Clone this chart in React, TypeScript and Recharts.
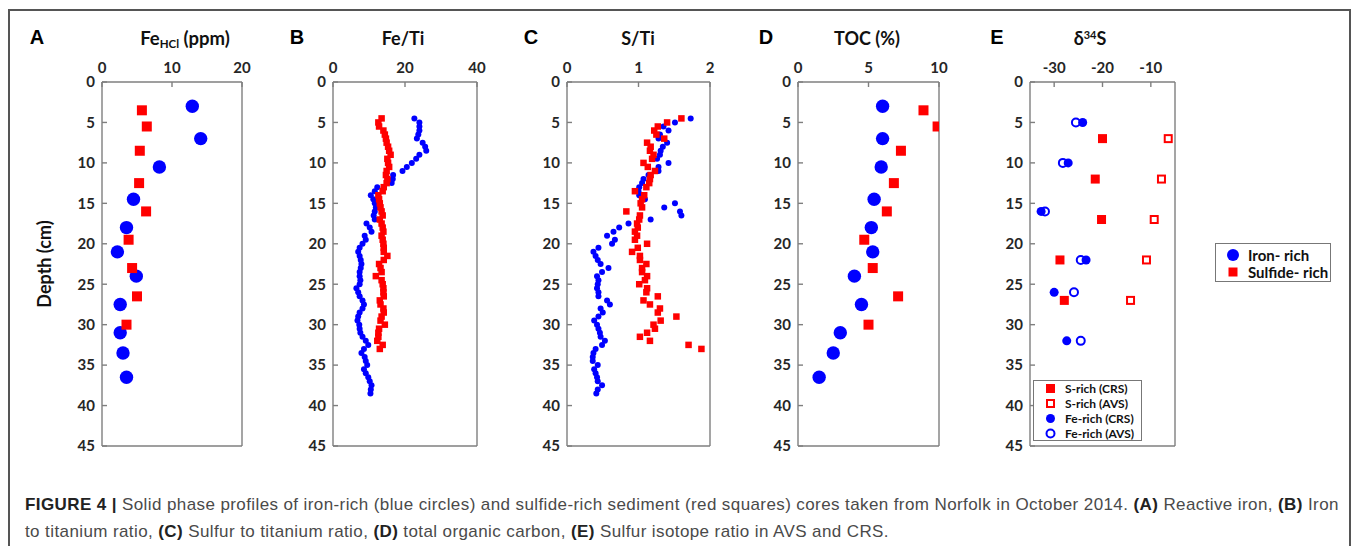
import React from "react";
import { ScatterChart, Scatter, XAxis, YAxis } from "recharts";

const BLUE = "#0000ff";
const RED = "#ff0000";

const depthTicks = [0, 5, 10, 15, 20, 25, 30, 35, 40, 45];

// core samples (panels A and D)
const ironCoreDepth = [3, 7, 10.5, 14.5, 18, 21, 24, 27.5, 31, 33.5, 36.5];
const sulfCoreDepth = [3.5, 5.5, 8.5, 12.5, 16, 19.5, 23, 26.5, 30];
const feHclIron = [12.9, 14.1, 8.2, 4.5, 3.5, 2.2, 4.9, 2.6, 2.6, 3.0, 3.5];
const feHclSulf = [5.7, 6.4, 5.4, 5.3, 6.3, 3.8, 4.3, 5.0, 3.5];
const tocIron = [6.0, 6.0, 5.9, 5.4, 5.2, 5.3, 4.0, 4.5, 3.0, 2.5, 1.5];
const tocSulf = [8.9, 9.9, 7.3, 6.8, 6.3, 4.7, 5.3, 7.1, 5.0];

// XRF scan depths (panels B and C)
const ironScanDepth = [
  4.5, 5, 5.5, 6, 6.5, 7, 7.5, 8, 8.5, 9, 9.5, 10, 10.5, 11, 11.5, 12, 12.5, 13, 13.5, 14,
  14.5, 15, 15.5, 16, 16.5, 17, 17.5, 18, 18.5, 19, 19.5, 20, 20.5, 21, 21.5, 22, 22.5, 23, 23.5, 24,
  24.5, 25, 25.5, 26, 26.5, 27, 27.5, 28, 28.5, 29, 29.5, 30, 30.5, 31, 31.5, 32, 32.5, 33, 33.5, 34,
  34.5, 35, 35.5, 36, 36.5, 37, 37.5, 38, 38.5,
];
const sulfScanDepth = [
  4.5, 5, 5.5, 6, 6.5, 7, 7.5, 8, 8.5, 9, 9.5, 10, 10.5, 11, 11.5, 12, 12.5, 13, 13.5, 14,
  14.5, 15, 15.5, 16, 16.5, 17, 17.5, 18, 18.5, 19, 19.5, 20, 20.5, 21, 21.5, 22, 22.5, 23, 23.5, 24,
  24.5, 25, 25.5, 26, 26.5, 27, 27.5, 28, 28.5, 29, 29.5, 30, 30.5, 31, 31.5, 32, 32.5, 33,
];
const feTiIron = [
  22.6, 24, 24, 24, 23.7, 23.3, 24.9, 25.6, 25.9, 24,
  23.1, 21.9, 20.5, 19.3, 16.7, 16.6, 16.3, 12.3, 11.6, 10.5,
  11.2, 11.6, 11.9, 11.6, 11.3, 11.6, 9.3, 10.2, 10.7, 8.8,
  9.1, 8.2, 7.4, 7.0, 7.4, 7.7, 7.9, 7.7, 7.4, 7.4,
  7.6, 7.4, 6.5, 7.0, 7.4, 8.2, 8.6, 8.2, 7.4, 7.0,
  6.8, 7.3, 7.4, 7.6, 8.2, 9.1, 9.8, 8.6, 7.9, 8.8,
  9.1, 9.5, 8.6, 9.1, 9.8, 10.2, 10.7, 10.5, 10.4,
];
const feTiSulf = [
  13.5, 12.6, 12.8, 14.0, 14.4, 14.7, 14.9, 15.3, 15.6, 16.0,
  15.1, 15.3, 15.6, 14.9, 14.7, 15.1, 14.9, 14.1, 13.8, 12.6,
  12.8, 13.0, 13.2, 13.5, 13.8, 13.0, 13.5, 13.8, 14.0, 13.5,
  13.8, 14.0, 14.1, 14.1, 15.1, 14.1, 12.8, 13.2, 13.5, 11.9,
  13.5, 13.8, 14.0, 14.0, 14.1, 13.0, 13.2, 14.0, 14.1, 13.5,
  13.2, 14.4, 12.8, 12.6, 12.6, 12.3, 13.8, 13.0,
];
const sTiIron = [
  1.73, 1.51, 1.35, 1.42, 1.3, 1.28, 1.4, 1.34, 1.31, 1.3,
  1.26, 1.42, 1.28, 1.28, 1.14, 1.07, 1.05, 1.01, 1.0, 1.01,
  1.09, 1.51, 1.36, 1.58, 1.6, 1.17, 0.86, 0.73, 0.65, 0.56,
  0.67, 0.63, 0.44, 0.37, 0.4, 0.43, 0.47, 0.58, 0.49, 0.42,
  0.44, 0.43, 0.42, 0.44, 0.44, 0.56, 0.6, 0.47, 0.5, 0.44,
  0.38, 0.42, 0.44, 0.46, 0.47, 0.53, 0.49, 0.4, 0.37, 0.36,
  0.36, 0.43, 0.38, 0.4, 0.42, 0.43, 0.49, 0.43, 0.41,
];
const sTiSulf = [
  1.6, 1.4, 1.27, 1.22, 1.25, 1.36, 1.12, 1.17, 1.16, 1.21,
  1.19, 1.07, 1.13, 1.23, 1.17, 1.16, 1.15, 1.11, 0.95, 1.08,
  1.05, 1.03, 1.05, 0.83, 1.02, 1.01, 0.98, 0.99, 0.95, 0.98,
  0.95, 1.12, 0.99, 0.91, 1.02, 1.02, 1.11, 1.05, 1.05, 1.12,
  1.09, 1.01, 1.12, 1.11, 1.27, 1.07, 1.16, 1.3, 1.27, 1.53,
  1.31, 1.21, 1.23, 1.12, 1.02, 1.16, 1.7, 1.88,
];

// sulfur isotopes (panel E)
const feIsoDepth = [5, 10, 16, 22, 26, 32];
const feCrs = [-24.1, -27.1, -32.7, -23.4, -30, -27.4];
const feAvs = [-25.5, -28.2, -31.9, -24.5, -25.9, -24.5];
const sIsoDepth = [7, 12, 17, 22, 27];
const sCrs = [-20.0, -21.5, -20.2, -28.8, -27.9];
const sAvs = [-6.4, -7.8, -9.3, -10.9, -14.2];

const pts = (xs: number[], ys: number[]) => xs.map((x, i) => ({ x, y: ys[i] }));

const YW = 60;
const XH = 30;
const PH = 364;
const TOP = 82;
const AXIS = "#7f7f7f";
const FONT = "Lato, 'Open Sans', sans-serif";

const tickStyle = { fill: "#262626", fontSize: 15, fontWeight: 700, fontFamily: FONT };
const lineStyle = { stroke: AXIS, strokeWidth: 1.4 };

const dot = (r: number, fill: string) => (p: any) => <circle cx={p.cx} cy={p.cy} r={r} fill={fill} />;
const ring = (r: number, color: string) => (p: any) => (
  <circle cx={p.cx} cy={p.cy} r={r} fill="#fff" stroke={color} strokeWidth={2} />
);
const sq = (s: number, fill: string) => (p: any) => (
  <rect x={p.cx - s / 2} y={p.cy - s / 2} width={s} height={s} fill={fill} />
);
const openSq = (s: number, color: string) => (p: any) => (
  <rect x={p.cx - s / 2} y={p.cy - s / 2} width={s} height={s} fill="#fff" stroke={color} strokeWidth={2} />
);

type PanelProps = {
  left: number;
  width: number;
  domain: [number, number];
  ticks: number[];
  children: React.ReactNode;
};

const Panel = ({ left, width, domain, ticks, children }: PanelProps) => (
  <div style={{ position: "absolute", left: left - YW, top: TOP - XH }}>
    <ScatterChart
      width={YW + width + 1 + 12}
      height={XH + PH + 1 + 12}
      margin={{ top: 0, right: 12, bottom: 12, left: 0 }}
    >
      <XAxis xAxisId="t" orientation="top" type="number" dataKey="x" domain={domain} ticks={ticks}
        interval={0} height={XH} tickSize={-5} tickMargin={14} axisLine={lineStyle} tickLine={lineStyle}
        tick={tickStyle} allowDataOverflow />
      <XAxis xAxisId="b" orientation="bottom" type="number" dataKey="x" domain={domain} ticks={ticks}
        interval={0} height={1} tickSize={-5} tick={false} axisLine={lineStyle} tickLine={lineStyle}
        allowDataOverflow />
      <YAxis yAxisId="l" type="number" dataKey="y" domain={[0, 45]} ticks={depthTicks} reversed
        interval={0} width={YW} tickSize={-5} tickMargin={12} axisLine={lineStyle} tickLine={lineStyle}
        tick={tickStyle} allowDataOverflow />
      <YAxis yAxisId="r" orientation="right" type="number" dataKey="y" domain={[0, 45]} ticks={depthTicks}
        reversed interval={0} width={1} tickSize={-5} tick={false} axisLine={lineStyle} tickLine={lineStyle}
        allowDataOverflow />
      {children}
    </ScatterChart>
  </div>
);

const text = (left: number, top: number, content: React.ReactNode, extra: React.CSSProperties = {}) => (
  <div style={{
    position: "absolute", left, top, transform: "translate(-50%, -50%)", whiteSpace: "nowrap",
    fontFamily: FONT, fontWeight: 700, fontSize: 18, color: "#111", ...extra,
  }}>{content}</div>
);

const letter = (left: number, ch: string) =>
  text(left, 37, ch, { fontFamily: "'Liberation Sans', Arial, sans-serif", fontSize: 20, color: "#000" });

const legendRow: React.CSSProperties = { display: "flex", alignItems: "center", height: 15, whiteSpace: "nowrap" };
const capB: React.CSSProperties = { color: "#222", fontWeight: 700 };

export default function App() {
  return (
    <div style={{ position: "absolute", left: 0, top: 0, width: 1357, height: 546, overflow: "hidden", background: "#fff" }}>
      <svg width={1357} height={546} style={{ position: "absolute", left: 0, top: 0 }}>
        <rect x={9} y={10} width={1341} height={600} fill="none" stroke="#555" strokeWidth={2} />
      </svg>

      {letter(37, "A")}
      {letter(297, "B")}
      {letter(531, "C")}
      {letter(766, "D")}
      {letter(997, "E")}

      {text(185, 38, <span>Fe<sub style={{ fontSize: 11.5, verticalAlign: -3 }}>HCl</sub> (ppm)</span>, { fontSize: 18.5 })}
      {text(403, 38, "Fe/Ti")}
      {text(638, 38, "S/Ti")}
      {text(867, 38, "TOC (%)")}
      {text(1090, 38, <span>δ<sup style={{ fontSize: 11, verticalAlign: 6 }}>34</sup>S</span>)}
      {text(44, 264, "Depth (cm)", { transform: "translate(-50%, -50%) rotate(-90deg)" })}

      <Panel left={102} width={140} domain={[0, 20]} ticks={[0, 10, 20]}>
        <Scatter xAxisId="t" yAxisId="l" data={pts(feHclIron, ironCoreDepth)} shape={dot(6.7, BLUE)} isAnimationActive={false} />
        <Scatter xAxisId="t" yAxisId="l" data={pts(feHclSulf, sulfCoreDepth)} shape={sq(10, RED)} isAnimationActive={false} />
      </Panel>
      <Panel left={333} width={144} domain={[0, 40]} ticks={[0, 20, 40]}>
        <Scatter xAxisId="t" yAxisId="l" data={pts(feTiIron, ironScanDepth)} shape={dot(3, BLUE)} isAnimationActive={false} />
        <Scatter xAxisId="t" yAxisId="l" data={pts(feTiSulf, sulfScanDepth)} shape={sq(6.5, RED)} isAnimationActive={false} />
      </Panel>
      <Panel left={567} width={143} domain={[0, 2]} ticks={[0, 1, 2]}>
        <Scatter xAxisId="t" yAxisId="l" data={pts(sTiIron, ironScanDepth)} shape={dot(3, BLUE)} isAnimationActive={false} />
        <Scatter xAxisId="t" yAxisId="l" data={pts(sTiSulf, sulfScanDepth)} shape={sq(6.5, RED)} isAnimationActive={false} />
      </Panel>
      <Panel left={798} width={141} domain={[0, 10]} ticks={[0, 5, 10]}>
        <Scatter xAxisId="t" yAxisId="l" data={pts(tocIron, ironCoreDepth)} shape={dot(6.7, BLUE)} isAnimationActive={false} />
        <Scatter xAxisId="t" yAxisId="l" data={pts(tocSulf, sulfCoreDepth)} shape={sq(10, RED)} isAnimationActive={false} />
      </Panel>
      <Panel left={1030} width={145} domain={[-35, -5]} ticks={[-30, -20, -10]}>
        <Scatter xAxisId="t" yAxisId="l" data={pts(sCrs, sIsoDepth)} shape={sq(9, RED)} isAnimationActive={false} />
        <Scatter xAxisId="t" yAxisId="l" data={pts(sAvs, sIsoDepth)} shape={openSq(7, RED)} isAnimationActive={false} />
        <Scatter xAxisId="t" yAxisId="l" data={pts(feAvs, feIsoDepth)} shape={ring(4, BLUE)} isAnimationActive={false} />
        <Scatter xAxisId="t" yAxisId="l" data={pts(feCrs, feIsoDepth)} shape={dot(4.5, BLUE)} isAnimationActive={false} />
      </Panel>

      <div style={{
        position: "absolute", left: 1033, top: 380, width: 109, height: 61, border: "1px solid #777",
        background: "#fff", fontFamily: FONT, fontWeight: 700, fontSize: 12, color: "#111",
        padding: "0 0 0 10px", boxSizing: "border-box",
      }}>
        {[
          { label: "S-rich (CRS)", m: <rect x={2} y={2} width={9} height={9} fill={RED} /> },
          { label: "S-rich (AVS)", m: <rect x={3} y={3} width={7} height={7} fill="#fff" stroke={RED} strokeWidth={2} /> },
          { label: "Fe-rich (CRS)", m: <circle cx={6.5} cy={6.5} r={4.5} fill={BLUE} /> },
          { label: "Fe-rich (AVS)", m: <circle cx={6.5} cy={6.5} r={4} fill="#fff" stroke={BLUE} strokeWidth={2} /> },
        ].map((it) => (
          <div key={it.label} style={legendRow}>
            <svg width={13} height={13} style={{ marginRight: 8, flex: "none" }}>{it.m}</svg>
            <span>{it.label}</span>
          </div>
        ))}
      </div>

      <div style={{
        position: "absolute", left: 1215, top: 243, width: 116, height: 39, border: "1px solid #777",
        background: "#fff", fontFamily: FONT, fontWeight: 700, fontSize: 15, color: "#111", padding: "3px 0 0 10px", boxSizing: "border-box",
      }}>
        <div style={{ ...legendRow, height: 16 }}>
          <svg width={14} height={14} style={{ marginRight: 8 }}><circle cx={7} cy={7} r={6} fill={BLUE} /></svg>
          <span>Iron- rich</span>
        </div>
        <div style={{ ...legendRow, height: 17 }}>
          <svg width={14} height={14} style={{ marginRight: 8 }}><rect x={2.5} y={2.5} width={9} height={9} fill={RED} /></svg>
          <span>Sulfide- rich</span>
        </div>
      </div>

      <div style={{ position: "absolute", left: 25, top: 491, fontFamily: "'Liberation Sans', Arial, sans-serif", fontSize: 17, letterSpacing: 0.4, color: "#4a4a4a", lineHeight: "27px", whiteSpace: "nowrap" }}>
        <div><span style={capB}>FIGURE 4 | </span>Solid phase profiles of iron-rich (blue circles) and sulfide-rich sediment (red squares) cores taken from Norfolk in October 2014. <span style={capB}>(A)</span> Reactive iron, <span style={capB}>(B)</span> Iron</div>
        <div>to titanium ratio, <span style={capB}>(C)</span> Sulfur to titanium ratio, <span style={capB}>(D)</span> total organic carbon, <span style={capB}>(E)</span> Sulfur isotope ratio in AVS and CRS.</div>
      </div>
    </div>
  );
}
